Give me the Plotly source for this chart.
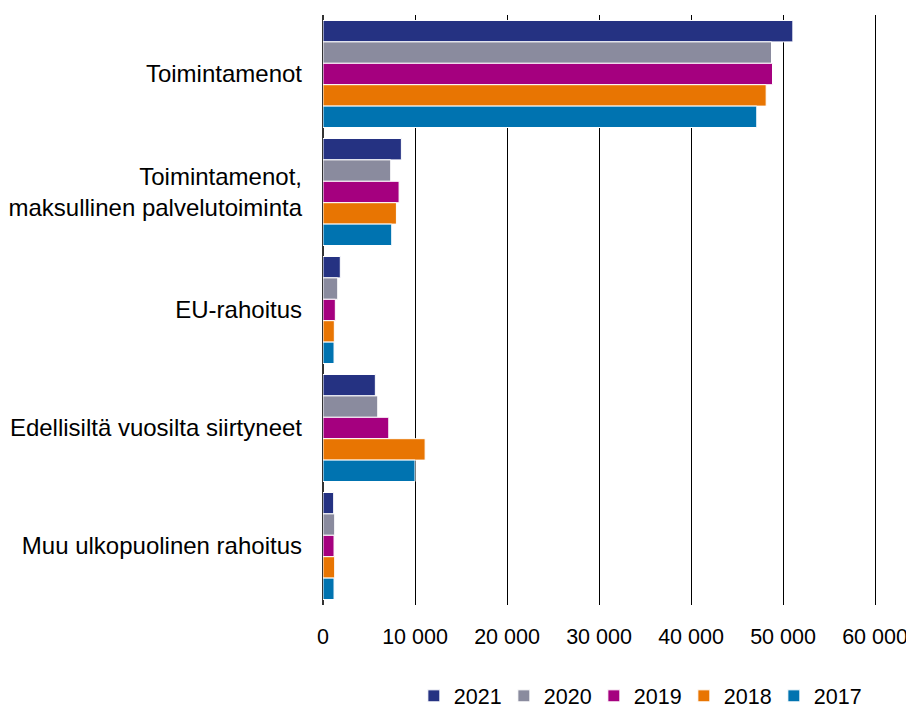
import plotly.graph_objects as go

categories = ["Toimintamenot", "Toimintamenot,<br>maksullinen palvelutoiminta", "EU-rahoitus",
              "Edellisiltä vuosilta siirtyneet", "Muu ulkopuolinen rahoitus"]
years = ["2021", "2020", "2019", "2018", "2017"]
v2021 = [51070, 8520, 1880, 5690, 1160]
v2020 = [48750, 7360, 1600, 5950, 1270]
v2019 = [48860, 8270, 1340, 7150, 1200]
v2018 = [48170, 7980, 1230, 11100, 1270]
v2017 = [47150, 7470, 1200, 10000, 1200]
series = [v2021, v2020, v2019, v2018, v2017]
colors = ["#253282", "#8a8b9e", "#a5007f", "#e87502", "#0073b0"]
xticks = [0, 10000, 20000, 30000, 40000, 50000, 60000]

fig = go.Figure()
for i, (name, vals, col) in enumerate(zip(years, series, colors)):
    fig.add_trace(go.Bar(y=categories, x=vals, name=name, orientation="h",
                         legendwidth=(60 if i == len(years) - 1 else None),
                         marker=dict(color=col, line=dict(color="#ffffff", width=1))))

# page has an 8px body margin: figure drawn 906x703 so it lands on the 914x711 view
fig.update_layout(
    width=906, height=703,
    barmode="group", bargap=0.093, bargroupgap=0,
    plot_bgcolor="white", paper_bgcolor="white",
    separators=", ",
    font=dict(family="Liberation Sans, Arial, sans-serif", size=20, color="#000000"),
    margin=dict(l=315, r=37, t=7, b=106, autoexpand=False),
    legend=dict(orientation="h", x=0.164, xanchor="left", y=-0.154, yanchor="middle",
                font=dict(size=21.5), traceorder="normal", itemwidth=30,
                entrywidth=45, entrywidthmode="pixels"),
    showlegend=True,
)
fig.update_xaxes(range=[0, 60217], tickvals=xticks, tickformat=",d",
                 tickfont=dict(size=21.5),
                 showgrid=True, gridcolor="#000000", gridwidth=1.3,
                 zeroline=True, zerolinecolor="#333333", zerolinewidth=1.5,
                 showline=False, ticks="", ticklabelstandoff=16, automargin=False)
fig.update_yaxes(autorange="reversed", showgrid=False, ticks="", showline=False,
                 tickfont=dict(size=24), ticklabelstandoff=20, automargin=False)

fig.write_html("out.html")
